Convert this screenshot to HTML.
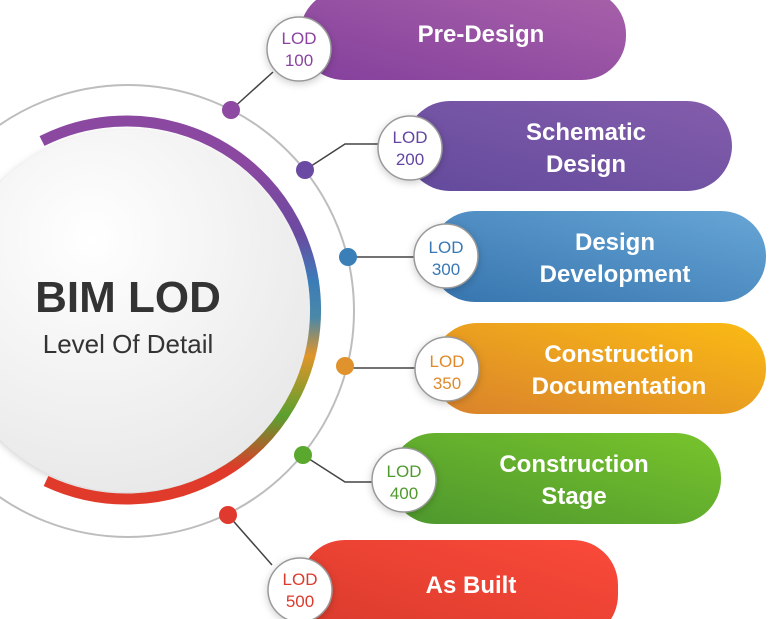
<!DOCTYPE html>
<html><head><meta charset="utf-8"><style>
html,body{margin:0;padding:0;background:#fff;width:771px;height:619px;overflow:hidden}
svg{display:block}
text{font-family:"Liberation Sans",sans-serif}
</style></head><body>
<svg width="771" height="619" viewBox="0 0 771 619" xmlns="http://www.w3.org/2000/svg">
<defs>
<linearGradient id="g1" x1="0" y1="1" x2="1" y2="0"><stop offset="0" stop-color="#84409c"/><stop offset="1" stop-color="#a862aa"/></linearGradient>
<linearGradient id="g2" x1="0" y1="1" x2="1" y2="0"><stop offset="0" stop-color="#634a9c"/><stop offset="1" stop-color="#845dac"/></linearGradient>
<linearGradient id="g3" x1="0" y1="1" x2="1" y2="0"><stop offset="0" stop-color="#3674ae"/><stop offset="1" stop-color="#67a6d6"/></linearGradient>
<linearGradient id="g4" x1="0" y1="1" x2="1" y2="0"><stop offset="0" stop-color="#d9822c"/><stop offset="1" stop-color="#fbbb14"/></linearGradient>
<linearGradient id="g5" x1="0" y1="1" x2="1" y2="0"><stop offset="0" stop-color="#4d972e"/><stop offset="1" stop-color="#78c42c"/></linearGradient>
<linearGradient id="g6" x1="0" y1="1" x2="1" y2="0"><stop offset="0" stop-color="#d83a2c"/><stop offset="1" stop-color="#fb4a3a"/></linearGradient>
<linearGradient id="arc" x1="0" y1="0" x2="0" y2="1">
<stop offset="0.12" stop-color="#8a48a0"/><stop offset="0.3" stop-color="#6a4aa0"/><stop offset="0.42" stop-color="#3b7cb8"/><stop offset="0.52" stop-color="#4a88a8"/><stop offset="0.62" stop-color="#e0952a"/><stop offset="0.78" stop-color="#5aa02e"/><stop offset="0.92" stop-color="#e03a2a"/></linearGradient>
<radialGradient id="wc" cx="0.4" cy="0.3" r="0.8"><stop offset="0" stop-color="#ffffff"/><stop offset="1" stop-color="#e6e6e6"/></radialGradient>
<filter id="sh" x="-20%" y="-20%" width="140%" height="140%"><feDropShadow dx="0" dy="2" stdDeviation="4" flood-color="#000" flood-opacity="0.2"/></filter>
</defs>
<circle cx="128" cy="311" r="226" fill="none" stroke="#bdbdbd" stroke-width="2"/>
<circle cx="128" cy="311" r="181" fill="url(#wc)" filter="url(#sh)"/>
<path d="M 42 141 A 189 189 0 1 1 46 481" fill="none" stroke="url(#arc)" stroke-width="11"/>
<text x="128" y="312" text-anchor="middle" font-size="44" font-weight="bold" fill="#333">BIM LOD</text>
<text x="128" y="353" text-anchor="middle" font-size="26" fill="#333">Level Of Detail</text>
<g stroke="#444" stroke-width="1.5" fill="none">
<polyline points="231,110 273,72"/>
<polyline points="305,170 345,144 380,144"/>
<polyline points="348,257 414,257"/>
<polyline points="345,368 415,368"/>
<polyline points="303,455 345,482 372,482"/>
<polyline points="228,515 272,565"/>
</g>
<circle cx="231" cy="110" r="9" fill="#8e4aa2"/>
<circle cx="305" cy="170" r="9" fill="#6a4aa2"/>
<circle cx="348" cy="257" r="9" fill="#3a7fb8"/>
<circle cx="345" cy="366" r="9" fill="#e0922c"/>
<circle cx="303" cy="455" r="9" fill="#5aa82e"/>
<circle cx="228" cy="515" r="9" fill="#e03a2e"/>
<rect x="300" y="-10" width="326" height="90" rx="44" fill="url(#g1)"/>
<rect x="405" y="101" width="327" height="90" rx="45" fill="url(#g2)"/>
<rect x="430" y="211" width="336" height="91" rx="45" fill="url(#g3)"/>
<rect x="432" y="323" width="334" height="91" rx="45" fill="url(#g4)"/>
<rect x="390" y="433" width="331" height="91" rx="45" fill="url(#g5)"/>
<rect x="300" y="540" width="318" height="100" rx="45" fill="url(#g6)"/>
<g fill="#fff" font-size="24" font-weight="bold" text-anchor="middle">
<text x="481" y="42">Pre-Design</text>
<text x="586" y="140">Schematic</text>
<text x="586" y="172">Design</text>
<text x="615" y="250">Design</text>
<text x="615" y="282">Development</text>
<text x="619" y="362">Construction</text>
<text x="619" y="394">Documentation</text>
<text x="574" y="472">Construction</text>
<text x="574" y="504">Stage</text>
<text x="471" y="593">As Built</text>
</g>
<g stroke="#999" stroke-width="1.5" fill="#fff" filter="url(#sh)">
<circle cx="299" cy="49" r="32"/>
<circle cx="410" cy="148" r="32"/>
<circle cx="446" cy="256" r="32"/>
<circle cx="447" cy="369" r="32"/>
<circle cx="404" cy="480" r="32"/>
<circle cx="300" cy="590" r="32"/>
</g>
<g font-size="17" text-anchor="middle">
<text x="299" y="44" fill="#8a44a0">LOD</text><text x="299" y="66" fill="#8a44a0">100</text>
<text x="410" y="143" fill="#6446a0">LOD</text><text x="410" y="165" fill="#6446a0">200</text>
<text x="446" y="253" fill="#3a78b4">LOD</text><text x="446" y="275" fill="#3a78b4">300</text>
<text x="447" y="367" fill="#de8a2a">LOD</text><text x="447" y="389" fill="#de8a2a">350</text>
<text x="404" y="477" fill="#4f9a2e">LOD</text><text x="404" y="499" fill="#4f9a2e">400</text>
<text x="300" y="585" fill="#dc3a2c">LOD</text><text x="300" y="607" fill="#dc3a2c">500</text>
</g>
</svg>
</body></html>
